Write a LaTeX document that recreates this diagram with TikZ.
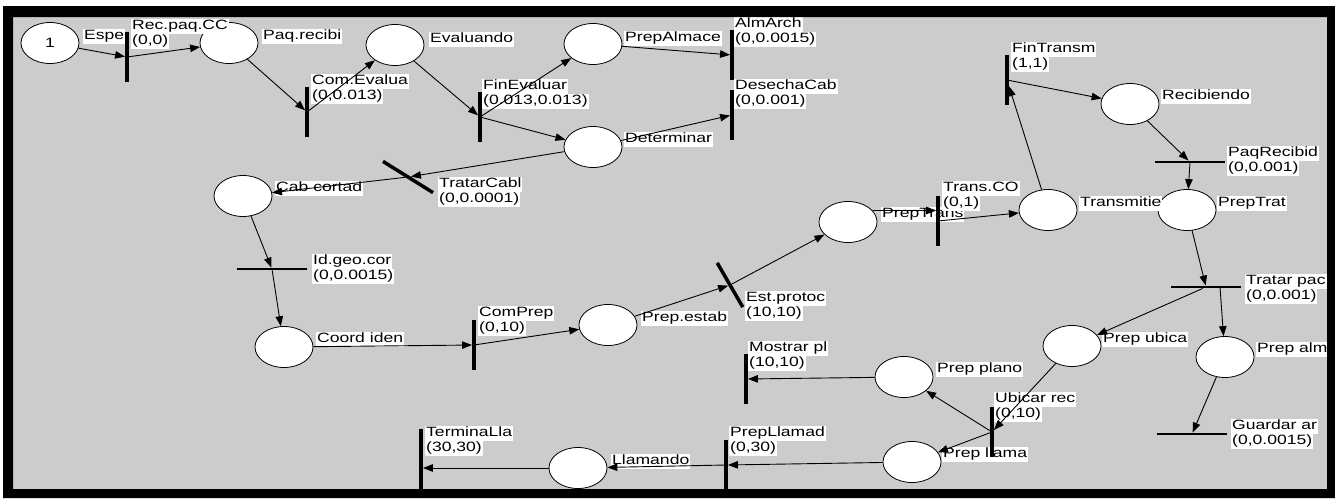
\documentclass[tikz,border=0pt]{standalone}
\usepackage{fontspec}
\newfontfamily\netzfont[FakeStretch=1.3]{Liberation Sans}
\usetikzlibrary{shapes.geometric,arrows.meta}

\definecolor{hgrau}{RGB}{204,204,204}
\setlength{\fboxsep}{0pt}

% weiss hinterlegte Beschriftung
\newcommand{\lz}[1]{\colorbox{white}{\strut\hspace{1pt}#1\hspace{1pt}}}

\tikzset{
  stelle/.style={ellipse, draw, fill=white, line width=0.8pt,
    minimum width=58pt, minimum height=41pt, inner sep=0pt},
  balken/.style={fill=black, inner sep=0pt,
    minimum width=3.5pt, minimum height=50pt},
  balkenh/.style={fill=black, inner sep=0pt,
    minimum width=70pt, minimum height=2.5pt},
  beschr/.style={anchor=north west, inner sep=0pt, align=left},
  bogen/.style={->, line width=0.9pt},
}

\begin{document}
\begin{tikzpicture}[x=1pt, y=-1pt, >={Triangle[length=10pt,width=7.5pt]},
    font=\netzfont\fontsize{13.5}{15}\selectfont]

            \useasboundingbox (0,0) rectangle (1335,498);

            % Hintergrund
            \fill[white] (0,0) rectangle (1335,498);
            \fill[hgrau] (13,17) rectangle (1327,489);

            % Stellen (Startstelle mit einer Marke)
            \node[stelle] (pEspe) at (50,43) {1};
            \foreach \n/\x/\y in {pPaqRec/229/43, pEvaluando/395/45, pPrepAlmace/593/44,
                    pDeterminar/593/147, pCabCortad/243/196, pCoordIden/284/347,
                    pPrepEstab/608/325, pPrepTrans/848/222, pTransmitie/1048/210,
                    pPrepTrat/1187/210, pRecibiendo/1130/104, pPrepUbica/1072/346,
                    pPrepAlm/1225/357, pPrepPlano/904/377, pPrepLlama/912/462,
                    pLlamando/578/468} {
                    \node[stelle] (\n) at (\x,\y) {};
                }

            % Beschriftung der Stellen
            \foreach \n/\x/\y/\t in {pEspe/83/29/Espe, pPaqRec/262/29/Paq.recibi,
                    pEvaluando/429/32/Evaluando, pPrepAlmace/624/31/PrepAlmace,
                    pDeterminar/624/132/Determinar, pCabCortad/275/181/Cab cortad,
                    pCoordIden/316/332/Coord iden, pPrepEstab/641/311/Prep.estab,
                    pPrepTrans/881/207/PrepTrans, pTransmitie/1079/196/Transmitie,
                    pPrepTrat/1217/196/PrepTrat, pRecibiendo/1161/89/Recibiendo,
                    pPrepUbica/1102/332/Prep ubica, pPrepAlm/1256/342/Prep alm,
                    pPrepPlano/936/362/Prep plano, pPrepLlama/942/447/Prep llama,
                    pLlamando/611/454/Llamando} {
                    \node[beschr] (l\n) at (\x,\y) {\lz{\t}};
                }

            % Beschriftung der Transitionen (Name und Zeiten)
            \foreach \n/\x/\y/\a/\b in {tRecPaq/131/19/Rec.paq.CC/{(0,0)},
                    tComEval/311/74/Com.Evalua/{(0,0.013)},
                    tFinEval/482/79/FinEvaluar/{(0.013,0.013)},
                    tAlmArch/734/17/AlmArch/{(0,0.0015)},
                    tDesecha/734/79/DesechaCab/{(0,0.001)},
                    tTratarCab/438/177/TratarCabl/{(0,0.0001)},
                    tIdGeo/312/254/Id.geo.cor/{(0,0.0015)},
                    tComPrep/478/306/ComPrep/{(0,10)},
                    tEstProt/745/291/Est.protoc/{(10,10)},
                    tTransCO/942/181/Trans.CO/{(0,1)},
                    tFinTransm/1011/42/FinTransm/{(1,1)},
                    tPaqRecib/1227/146/PaqRecibid/{(0,0.001)},
                    tTratarPaq/1245/274/Tratar pac/{(0,0.001)},
                    tUbicar/994/392/Ubicar rec/{(0,10)},
                    tGuardar/1231/419/Guardar ar/{(0,0.0015)},
                    tMostrar/748/341/Mostrar pl/{(10,10)},
                    tPrepLlamad/729/426/PrepLlamad/{(0,30)},
                    tTermina/425/426/TerminaLla/{(30,30)}} {
                    \node[beschr] (l\n) at (\x,\y) {\lz{\a}\\\lz{\b}};
                }

            % Transitionen senkrecht
            \foreach \n/\x/\y in {tRecPaq/127/57, tComEval/307/112, tFinEval/480/117,
                    tAlmArch/732/55, tDesecha/732/115, tComPrep/474/345,
                    tTransCO/938/221, tFinTransm/1007/80, tUbicar/992/432,
                    tMostrar/746/379, tPrepLlamad/726/465} {
                    \node[balken] (\n) at (\x,\y) {};
                }
            \node[balken, minimum height=61pt] (tTermina) at (421,459) {};

            % Transitionen waagrecht
            \foreach \n/\x/\y in {tIdGeo/272/269, tPaqRecib/1190/162,
                    tTratarPaq/1206/287, tGuardar/1192/434} {
                    \node[balkenh] (\n) at (\x,\y) {};
                }

            % Transitionen schraeg
            \node[balken, minimum height=59pt, rotate=58] (tTratarCab) at (408,177) {};
            \node[balken, minimum height=51pt, rotate=30] (tEstProt) at (730,285) {};

            % Kanten
            \foreach \a/\b in {pEspe/tRecPaq, tRecPaq/pPaqRec, pPaqRec/tComEval,
                    tComEval/pEvaluando, pEvaluando/tFinEval, tFinEval/pPrepAlmace,
                    tFinEval/pDeterminar, pPrepAlmace/tAlmArch, pDeterminar/tDesecha,
                    pDeterminar/tTratarCab, tTratarCab/pCabCortad, pCabCortad/tIdGeo,
                    tIdGeo/pCoordIden, pCoordIden/tComPrep, tComPrep/pPrepEstab,
                    pPrepEstab/tEstProt, tEstProt/pPrepTrans, tTransCO/pTransmitie,
                    pTransmitie/tFinTransm, tFinTransm/pRecibiendo, pRecibiendo/tPaqRecib,
                    tPaqRecib/pPrepTrat, pPrepTrat/tTratarPaq, tTratarPaq/pPrepUbica,
                    pPrepUbica/tUbicar, tUbicar/pPrepPlano, tUbicar/pPrepLlama,
                    pPrepAlm/tGuardar, pPrepPlano/tMostrar, pPrepLlama/tPrepLlamad,
                    tPrepLlamad/pLlamando} {
                    \draw[bogen] (\a) -- (\b);
                }
            % Kanten mit versetztem Ansatz
            \draw[bogen] (pPrepTrans.25) -- (pPrepTrans.25 -| tTransCO.west);
            \draw[bogen] ([xshift=14pt]tTratarPaq.center) -- (pPrepAlm);
            \draw[bogen] (pLlamando.west) -- (pLlamando.west -| tTermina.east);

            % Rahmen
            \fill[black, even odd rule] (3,6) rectangle (1335,498)
            (13,17) rectangle (1327,489);

        \end{tikzpicture}
\end{document}
